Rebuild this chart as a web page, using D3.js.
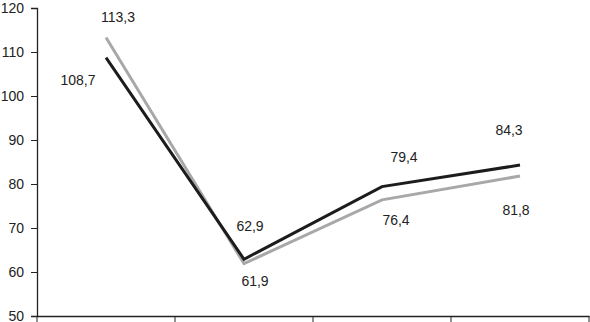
<!DOCTYPE html>
<html><head><meta charset="utf-8">
<script src="https://cdn.jsdelivr.net/npm/d3@7"></script>
<style>body{margin:0;background:#fff}svg{display:block}text{font-family:"Liberation Sans",Arial,sans-serif}</style>
</head><body>
<svg id="c" width="590" height="322"></svg>
<script>
const categories = ["A","B","C","D"];
const seriesBlack = [108.7, 62.9, 79.4, 84.3];
const seriesGray = [113.3, 61.9, 76.4, 81.8];
const yTicks = [50,60,70,80,90,100,110,120];

const svg = d3.select("#c");
const x = d3.scaleBand().domain(categories).range([37, 589]);
const y = d3.scaleLinear().domain([50,120]).range([316, 8]);

// y axis
const ya = svg.append("g").attr("transform","translate(37,0)")
  .call(d3.axisLeft(y).tickValues(yTicks).tickSize(6).tickPadding(7).tickFormat(d3.format("d")));
ya.select(".domain").attr("stroke","#222").attr("stroke-width",1.3);
ya.selectAll(".tick line").attr("stroke","#222");
ya.selectAll(".tick text").attr("font-size",14).attr("fill","#222").attr("font-family","Liberation Sans, Arial, sans-serif");

// x axis
const xa = svg.append("g").attr("transform","translate(0,316)")
  .call(d3.axisBottom(x).tickSize(0).tickFormat(""));
xa.select(".domain").attr("stroke","#222").attr("stroke-width",1.3);
const bounds = categories.map(c => x(c)).concat([x.range()[1]]);
xa.selectAll(".sep").data(bounds).enter().append("line")
  .attr("x1", d=>d).attr("x2", d=>d).attr("y1",0).attr("y2",6).attr("stroke","#222");

const line = d3.line().x((d,i)=>x(categories[i])+x.bandwidth()/2).y(d=>y(d));
svg.append("path").datum(seriesGray).attr("d",line).attr("fill","none").attr("stroke","#a8a8a8").attr("stroke-width",3);
svg.append("path").datum(seriesBlack).attr("d",line).attr("fill","none").attr("stroke","#1c1c1c").attr("stroke-width",3);

const fmt = v => v.toFixed(1).replace(".",",");
const offBlack = [[-28,22],[6,-33],[22,-30],[-11,-35]];
const offGray = [[12,-20],[11,17],[14,20],[-4,34]];
function labels(data, off){
  svg.append("g").selectAll("text").data(data).enter().append("text")
    .attr("x",(d,i)=>x(categories[i])+x.bandwidth()/2+off[i][0])
    .attr("y",(d,i)=>y(d)+off[i][1])
    .attr("text-anchor","middle").attr("dominant-baseline","central")
    .attr("font-size",14).attr("fill","#222").text(fmt);
}
labels(seriesBlack, offBlack);
labels(seriesGray, offGray);
</script>
</body></html>
